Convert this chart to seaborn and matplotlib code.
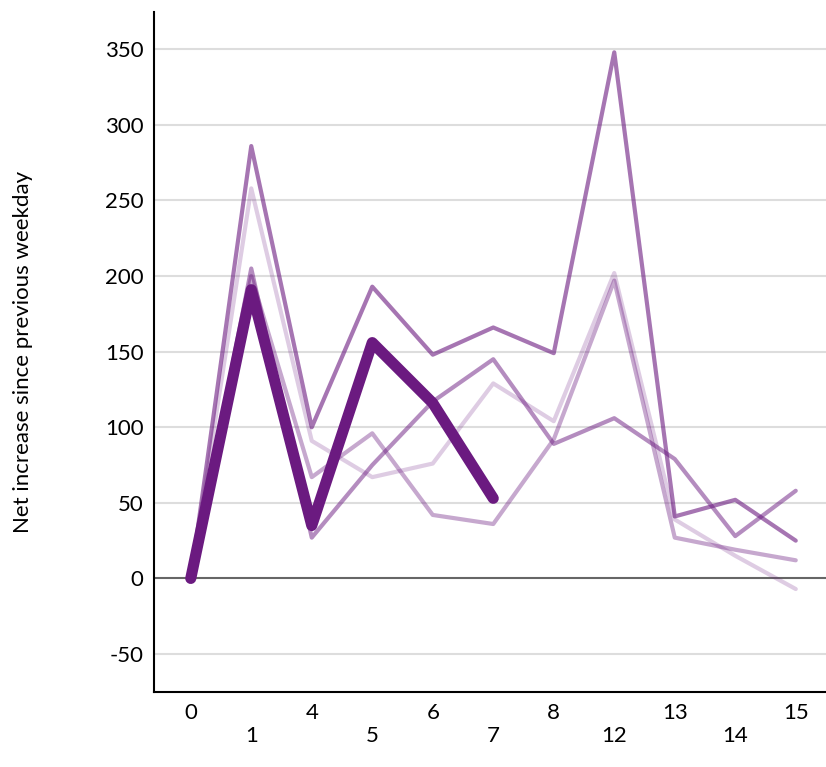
import matplotlib
matplotlib.use("Agg")
import matplotlib.pyplot as plt
import seaborn as sns
import pandas as pd

days = ["0","1","4","5","6","7","8","12","13","14","15"]
thick = [0,191,35,156,116,53]
line_a = [0,286,100,193,148,166,149,348,41,52,25]
line_b = [0,205,27,75,117,145,89,106,79,28,58]
line_c = [0,258,91,67,76,129,104,202,39,15,-7]
line_d = [0,200,67,96,42,36,92,197,27,19,12]

sns.set_style("white")
plt.rcParams['font.family'] = ['Lato', 'DejaVu Sans']
plt.rcParams['axes.unicode_minus'] = False
fig = plt.figure(figsize=(8.26,7.67), dpi=100)
ax = fig.add_axes([0.187, 0.098, 0.813, 0.887])
col = "#6b1a80"
x = list(range(len(days)))
for vals, a in [(line_c,0.22),(line_d,0.38),(line_b,0.5),(line_a,0.6)]:
    sns.lineplot(x=x, y=vals, ax=ax, color=col, alpha=a, lw=3)
sns.lineplot(x=x[:len(thick)], y=thick, ax=ax, color=col, lw=8, solid_capstyle='round')
for v in range(-50, 351, 50):
    ax.axhline(v, color="#dddddd" if v else "#666666", lw=1.5, zorder=0)
ax.set_ylim(-75, 375)
ax.set_xlim(-0.6, 10.5)
ax.set_yticks(range(-50,351,50))
ax.set_xticks(x)
ax.set_xticklabels([d if i%2==0 else "\n"+d for i,d in enumerate(days)])
ax.tick_params(axis='both', labelsize=16, length=0, pad=8, labelcolor="black")
ax.set_ylabel("Net increase since previous weekday", fontsize=16, labelpad=52, color="black")
for s in ["top","right"]:
    ax.spines[s].set_visible(False)
for s in ["left","bottom"]:
    ax.spines[s].set_color("black"); ax.spines[s].set_linewidth(1.5)
fig.savefig("out.png", dpi=100)
